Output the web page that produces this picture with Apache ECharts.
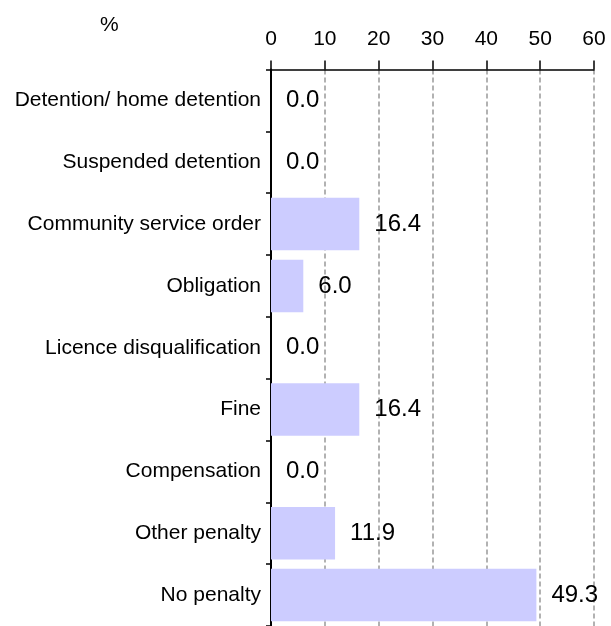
<!DOCTYPE html>
<html>
<head>
<meta charset="utf-8">
<script src="https://cdn.jsdelivr.net/npm/echarts@6/dist/echarts.min.js"></script>
<style>
html,body{margin:0;padding:0;background:#fff;}
#chart{width:611px;height:626px;}
</style>
</head>
<body>
<div id="chart"></div>
<script>
const categories = ["Detention/ home detention","Suspended detention","Community service order","Obligation","Licence disqualification","Fine","Compensation","Other penalty","No penalty"];
const values = [0.0, 0.0, 16.4, 6.0, 0.0, 16.4, 0.0, 11.9, 49.3];
const xTicks = {min: 0, max: 60, interval: 10};
const unitLabel = "%";

const chart = echarts.init(document.getElementById('chart'), null, {renderer: 'canvas'});
const font = '"Liberation Sans", Arial, sans-serif';
chart.setOption({
  animation: false,
  backgroundColor: '#fff',
  grid: {left: 271, top: 69.5, width: 323, height: 558},
  graphic: [{
    type: 'text', left: 100, top: 15,
    style: {text: unitLabel, font: '21px ' + font, fill: '#000'}
  }],
  xAxis: {
    type: 'value', position: 'top', min: xTicks.min, max: xTicks.max, interval: xTicks.interval,
    axisLine: {show: true, lineStyle: {color: '#000', width: 1.5}},
    axisTick: {show: true, length: 9, lineStyle: {color: '#000', width: 1.5}},
    axisLabel: {color: '#000', fontSize: 21, fontFamily: font, margin: 20},
    splitLine: {show: true, lineStyle: {color: '#999', type: [5, 3], width: 1.5}}
  },
  yAxis: {
    type: 'category', data: categories, inverse: true,
    axisLine: {show: true, lineStyle: {color: '#000', width: 2}},
    axisTick: {show: true, length: 5, lineStyle: {color: '#000', width: 1.5}},
    axisLabel: {color: '#000', fontSize: 21, fontFamily: font, margin: 10},
    splitLine: {show: false}
  },
  series: [{
    type: 'bar', data: values, barCategoryGap: '15%',
    itemStyle: {color: '#CCCCFF'},
    label: {show: true, position: 'right', distance: 15, color: '#000', fontSize: 24, fontFamily: font,
      formatter: p => p.value.toFixed(1)}
  }]
});
</script>
</body>
</html>
